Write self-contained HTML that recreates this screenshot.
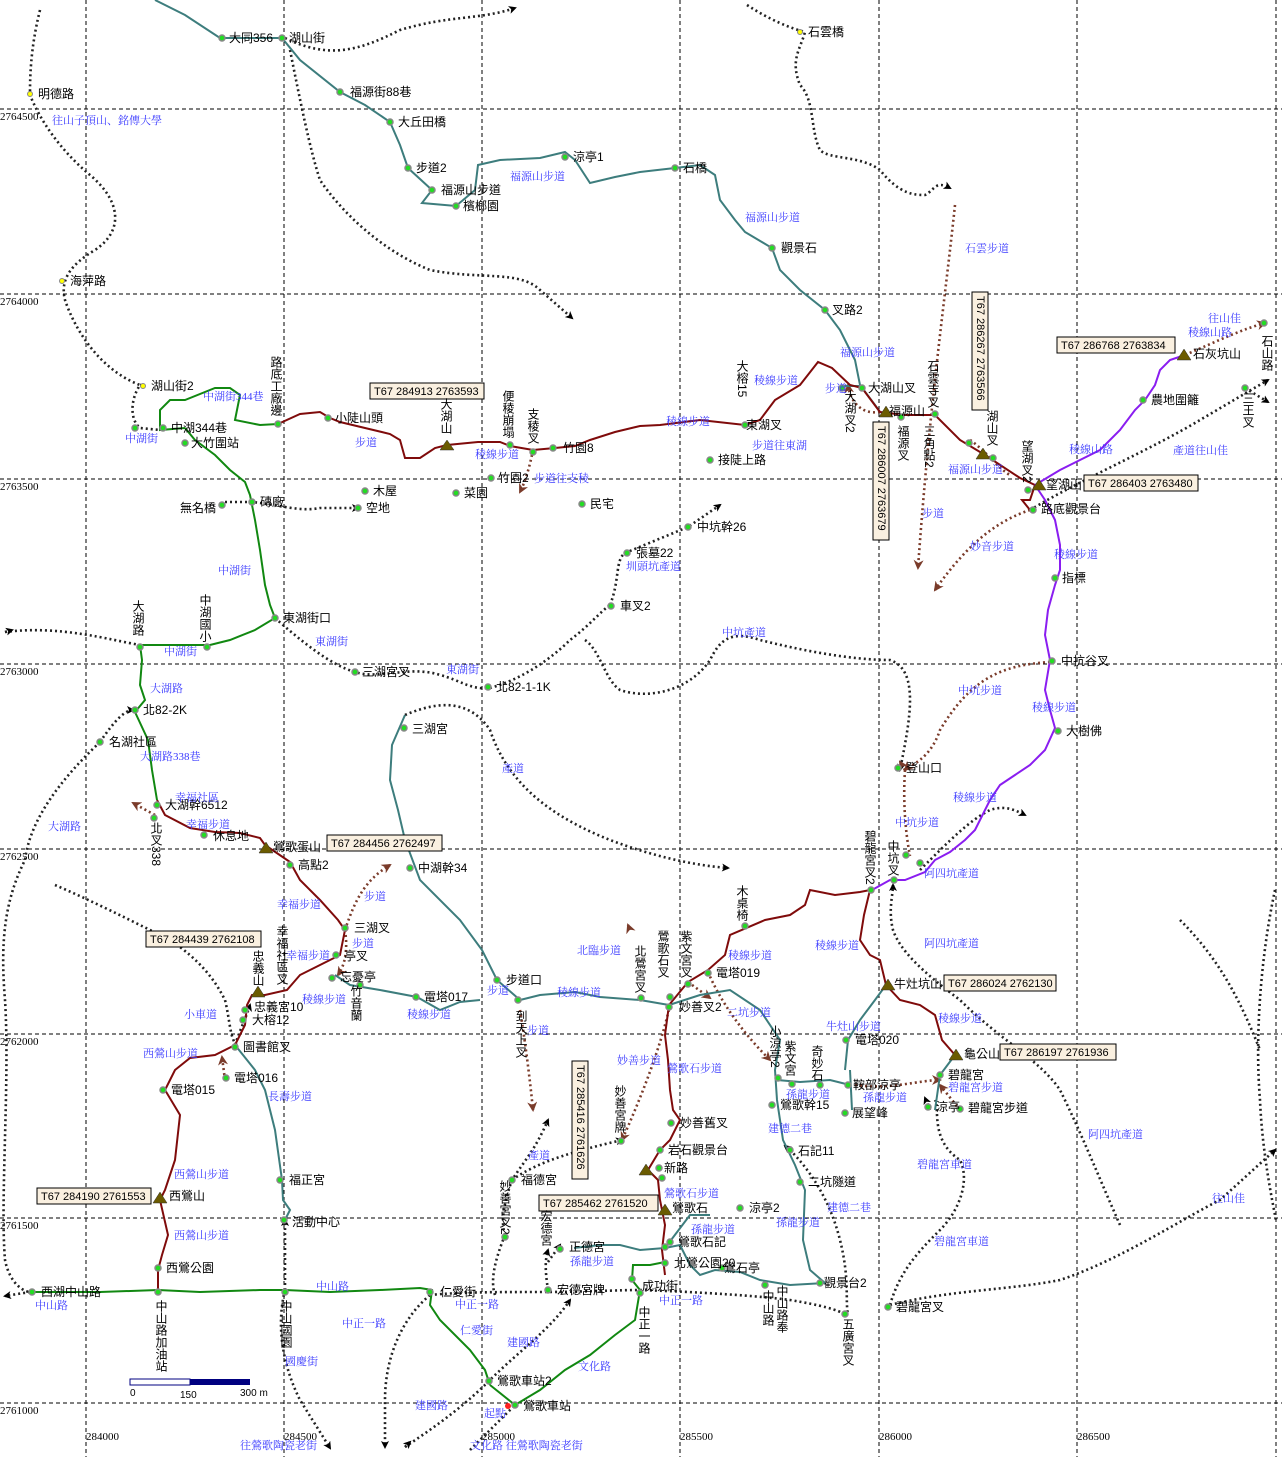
<!DOCTYPE html>
<html><head><meta charset="utf-8"><style>
html,body{margin:0;padding:0;background:#fff}
svg{display:block}
text{font-family:"Liberation Sans","Noto Sans CJK TC",sans-serif;font-size:12px;fill:#000}
.b{fill:#3b3bff;font-size:11px;font-family:"Liberation Serif","Noto Serif CJK SC",serif}
.v{writing-mode:vertical-rl}
.g{stroke:#000;stroke-width:1;stroke-dasharray:4,3;fill:none}
.road{stroke:#222;stroke-width:2.6;stroke-dasharray:2,3;fill:none}
.arr{stroke:#7a3b2a;stroke-width:2.6;stroke-dasharray:2,3;fill:none}
.teal{stroke:#3d7d7d;stroke-width:2;fill:none}
.red{stroke:#7f0b0b;stroke-width:2;fill:none}
.grn{stroke:#118811;stroke-width:2;fill:none}
.pur{stroke:#8a1df0;stroke-width:2;fill:none}
.box{fill:#faf0e0;stroke:#000;stroke-width:1}
.bx{font-size:11px}
</style></head><body>
<svg width="1282" height="1457" viewBox="0 0 1282 1457" xmlns="http://www.w3.org/2000/svg">
<defs>
<marker id="ka" markerWidth="8" markerHeight="8" refX="6" refY="4" orient="auto" markerUnits="userSpaceOnUse"><path d="M0,0L8,4L0,8L2,4z" fill="#000"/></marker>
<marker id="ra" markerWidth="10" markerHeight="10" refX="8" refY="5" orient="auto" markerUnits="userSpaceOnUse"><path d="M0,0L10,5L0,10L3,5z" fill="#7a3b2a"/></marker>
</defs>
<!-- grid -->
<g class="g">
<line x1="86" y1="0" x2="86" y2="1457"/><line x1="284" y1="0" x2="284" y2="1457"/><line x1="482" y1="0" x2="482" y2="1457"/><line x1="680" y1="0" x2="680" y2="1457"/><line x1="879" y1="0" x2="879" y2="1457"/><line x1="1077" y1="0" x2="1077" y2="1457"/><line x1="1276" y1="0" x2="1276" y2="1457"/>
<line x1="0" y1="109" x2="1282" y2="109"/><line x1="0" y1="294" x2="1282" y2="294"/><line x1="0" y1="479" x2="1282" y2="479"/><line x1="0" y1="664" x2="1282" y2="664"/><line x1="0" y1="849" x2="1282" y2="849"/><line x1="0" y1="1034" x2="1282" y2="1034"/><line x1="0" y1="1218" x2="1282" y2="1218"/><line x1="0" y1="1403" x2="1282" y2="1403"/>
</g>
<g font-size="11">
<text x="0" y="120" style="font-family:'Liberation Serif',serif;font-size:11px">2764500</text>
<text x="0" y="305" style="font-family:'Liberation Serif',serif;font-size:11px">2764000</text>
<text x="0" y="490" style="font-family:'Liberation Serif',serif;font-size:11px">2763500</text>
<text x="0" y="675" style="font-family:'Liberation Serif',serif;font-size:11px">2763000</text>
<text x="0" y="860" style="font-family:'Liberation Serif',serif;font-size:11px">2762500</text>
<text x="0" y="1045" style="font-family:'Liberation Serif',serif;font-size:11px">2762000</text>
<text x="0" y="1229" style="font-family:'Liberation Serif',serif;font-size:11px">2761500</text>
<text x="0" y="1414" style="font-family:'Liberation Serif',serif;font-size:11px">2761000</text>
<text x="86" y="1440" style="font-family:'Liberation Serif',serif;font-size:11px">284000</text>
<text x="284" y="1440" style="font-family:'Liberation Serif',serif;font-size:11px">284500</text>
<text x="482" y="1440" style="font-family:'Liberation Serif',serif;font-size:11px">285000</text>
<text x="680" y="1440" style="font-family:'Liberation Serif',serif;font-size:11px">285500</text>
<text x="879" y="1440" style="font-family:'Liberation Serif',serif;font-size:11px">286000</text>
<text x="1077" y="1440" style="font-family:'Liberation Serif',serif;font-size:11px">286500</text>
</g>
<!-- scale bar -->
<rect x="130" y="1379" width="60" height="6" fill="#fff" stroke="#000080"/><rect x="190" y="1379" width="60" height="6" fill="#000080"/>
<text x="130" y="1396" style="font-size:10px">0</text><text x="180" y="1398" style="font-size:10px">150</text><text x="240" y="1396" style="font-size:10px">300 m</text>

<!-- roads (black dotted) -->
<g class="road">
<path d="M40,10 C30,50 30,80 30,95 C40,120 60,150 90,175 C120,200 125,230 95,250 C70,265 60,280 65,300 C75,330 100,370 140,385 C130,400 130,420 140,428 L160,430"/>
<path d="M140,385 L145,385" />
<path d="M285,38 C330,60 360,50 400,30 C450,15 480,20 515,8" marker-end="url(#ka)"/>
<path d="M290,50 C300,100 310,150 320,180 C340,210 380,250 430,270 C480,280 520,270 540,290 L572,318" marker-end="url(#ka)"/>
<path d="M747,5 C770,20 790,28 805,32 C800,50 790,60 800,85 C815,100 810,130 820,150 C830,160 860,155 880,170 C900,195 915,195 925,195 C935,190 935,180 950,188" marker-end="url(#ka)"/>
<path d="M225,502 L252,502 C280,505 300,512 320,508 L358,508" marker-end="url(#ka)"/>
<path d="M610,605 C620,580 615,560 625,553 L688,527 L720,505" marker-end="url(#ka)"/>
<path d="M275,618 C300,640 330,665 355,672 C380,680 410,665 440,675 C460,680 470,690 490,688 C520,680 550,660 570,640 C590,625 600,612 610,605"/>
<path d="M585,640 C600,650 605,680 620,690 C650,700 690,690 710,660 C720,640 730,630 760,640 C800,650 850,660 890,660 C920,670 910,720 900,770" marker-end="url(#ka)"/>
<path d="M5,632 C60,625 110,640 140,645"  />
<path d="M5,632 L12,630" marker-end="url(#ka)"/>
<path d="M405,715 C440,700 470,700 490,730 C510,790 560,820 610,840 C650,855 690,865 728,868" marker-end="url(#ka)"/>
<path d="M100,742 C115,720 125,710 133,710" marker-end="url(#ka)"/>
<path d="M100,742 C60,780 30,820 25,860 C5,900 0,940 5,1000 C10,1080 0,1200 5,1260 C10,1285 25,1292 30,1292"/>
<path d="M30,1292 L5,1296" marker-end="url(#ka)"/>
<path d="M55,885 C90,900 130,920 170,940 C200,960 215,980 225,1000 C230,1020 230,1040 237,1045"/>
<path d="M235,1045 C240,1030 245,1020 250,1005" marker-end="url(#ka)"/>
<path d="M285,1290 C285,1270 285,1250 285,1220" marker-end="url(#ka)"/>
<path d="M285,1290 C275,1330 285,1370 300,1400 L330,1448" marker-end="url(#ka)"/>
<path d="M430,1295 C400,1320 385,1360 385,1400 L385,1447" marker-end="url(#ka)"/>
<path d="M430,1295 C460,1292 500,1292 540,1292 C580,1292 620,1290 640,1290 C700,1292 760,1296 790,1300 C820,1305 840,1310 845,1315"/>
<path d="M405,1447 C430,1430 460,1410 490,1380 C520,1350 550,1330 570,1300" marker-end="url(#ka)"/>
<path d="M405,1447 L410,1442" marker-end="url(#ka)"/>
<path d="M470,1450 C490,1430 505,1415 515,1405"/>
<path d="M505,1235 C500,1220 505,1200 512,1180 C525,1160 535,1150 548,1120" marker-end="url(#ka)"/>
<path d="M505,1235 C495,1260 490,1280 495,1295"/>
<path d="M512,1180 C540,1160 580,1150 622,1140" marker-end="url(#ka)"/>
<path d="M548,1290 C545,1270 545,1260 548,1250" marker-end="url(#ka)"/>
<path d="M548,1262 L560,1245" marker-end="url(#ka)"/>
<path d="M790,1150 C810,1170 830,1200 840,1240 C850,1280 845,1300 848,1315"/>
<path d="M790,1150 L785,1146" marker-end="url(#ka)"/>
<path d="M890,1305 C900,1270 920,1250 940,1230 C960,1210 970,1180 960,1160 C930,1140 940,1110 935,1100"/>
<path d="M930,1110 L925,1098" marker-end="url(#ka)"/>
<path d="M890,1305 C950,1290 1010,1290 1060,1280 C1120,1260 1180,1220 1220,1200 L1275,1150" marker-end="url(#ka)"/>
<path d="M1120,1225 C1100,1180 1080,1130 1060,1090 C1040,1060 1000,1040 960,1000 C920,970 900,950 893,930 C888,910 893,895 893,885" marker-end="url(#ka)"/>
<path d="M920,870 C950,840 970,820 990,810 C1005,805 1015,810 1025,815" marker-end="url(#ka)"/>
<path d="M1030,510 C1080,480 1150,450 1200,420 L1268,380" marker-end="url(#ka)"/>
<path d="M1245,388 L1268,402" marker-end="url(#ka)"/>
<path d="M1275,890 C1260,960 1255,1040 1260,1100 C1262,1150 1272,1200 1276,1220"/>
<path d="M1180,920 C1220,960 1240,1000 1260,1050"/>
</g>

<!-- brown dotted arrows -->
<g class="arr">
<path d="M955,205 C945,300 930,400 918,568" marker-end="url(#ra)"/>
<path d="M1030,510 C1000,520 970,540 935,590" marker-end="url(#ra)"/>
<path d="M1185,355 C1220,340 1240,330 1265,323" marker-end="url(#ra)"/>
<path d="M880,412 C860,415 850,400 848,385" marker-end="url(#ra)"/>
<path d="M1050,662 C1000,665 970,680 940,730 C930,760 910,765 905,770" marker-end="url(#ra)"/>
<path d="M905,770 C903,800 905,830 910,856"/>
<path d="M905,770 L900,762" marker-end="url(#ra)"/>
<path d="M533,450 C530,465 526,480 520,492" marker-end="url(#ra)"/>
<path d="M155,815 L133,803" marker-end="url(#ra)"/>
<path d="M345,930 C355,900 365,880 390,865" marker-end="url(#ra)"/>
<path d="M345,930 C348,950 345,965 338,975" marker-end="url(#ra)"/>
<path d="M225,1080 L222,1057" marker-end="url(#ra)"/>
<path d="M670,1005 C660,1050 640,1100 622,1140" marker-end="url(#ra)"/>
<path d="M520,1010 C525,1040 530,1080 533,1110" marker-end="url(#ra)"/>
<path d="M688,982 L710,998" marker-end="url(#ra)"/>
<path d="M708,972 C720,1000 740,1030 770,1060" marker-end="url(#ra)"/>
<path d="M630,930 L628,925" marker-end="url(#ra)"/>
<path d="M855,1085 C890,1090 920,1080 940,1080" marker-end="url(#ra)"/>
<path d="M960,1110 L940,1085" marker-end="url(#ra)"/>
<path d="M970,440 C985,450 1000,470 1010,475"/>
</g>

<!-- teal trails -->
<g class="teal">
<path d="M155,0 L185,15 L220,38 L282,38 L300,60 L340,92 L365,105 L390,122 L400,145 L408,168 L432,190 L422,203 L456,206 L475,190 L478,165 L500,160 L540,158 L565,152 L575,160 L590,183 L615,177 L640,172 L675,168 L700,165 L715,175 L720,200 L735,220 L745,232 L772,248 L780,270 L800,290 L825,310 L840,330 L855,360 L860,385 L875,405 L880,412"/>
<path d="M840,386 L862,386"/>
<path d="M405,715 L392,745 L390,780 L398,810 L405,840 L420,880 L460,920 L482,950 L497,980 L520,1000 L540,995 L575,992 L600,997 L640,1000 L669,1005"/>
<path d="M480,1000 L460,1002 L440,1010 L417,997 L380,990 L350,985 L335,975"/>
<path d="M235,1045 L255,1070 L265,1090 L275,1130 L282,1180 L283,1200 L290,1210 L285,1220"/>
<path d="M669,1005 L700,995 L730,990 L760,1010 L780,1040 L775,1070 L777,1100 L783,1140 L795,1165 L805,1190 L803,1240 L810,1270 L825,1283"/>
<path d="M777,1080 L800,1082 L830,1080 L850,1085"/>
<path d="M850,1070 L852,1110"/>
<path d="M886,985 L875,1000 L860,1020 L848,1040 L845,1070"/>
<path d="M955,1055 L940,1075 L935,1110"/>
<path d="M574,1248 L600,1245 L620,1245 L640,1250 L665,1248 L680,1245 L690,1265 L700,1275 L715,1270 L740,1272 L760,1280 L790,1285 L825,1283"/>
<path d="M665,1248 L690,1215 L710,1215"/>
</g>

<!-- red trails -->
<g class="red">
<path d="M278,424 L300,414 L320,412 L330,418 L340,422 L365,428 L390,434 L400,440 L405,458 L420,458 L435,448 L447,445 L478,442 L500,442 L510,446 L533,450 L555,448 L575,446 L590,440 L615,432 L640,426 L660,425 L700,420 L745,425 L760,420 L775,400 L800,385 L818,362 L832,368 L850,385 L862,388 L880,412 L905,415 L935,415 L960,440 L985,455 L1020,478 L1035,485 L1030,500 L1022,500 L1030,510"/>
<path d="M157,800 L165,815 L190,828 L215,832 L240,833 L260,838 L265,845 L290,862 L300,880 L320,900 L338,920 L345,930 L340,955 L320,965 L300,975 L287,990 L265,995 L252,995 L247,1005 L245,1025 L235,1045 L215,1055 L190,1058 L175,1070 L165,1090 L180,1115 L175,1160 L165,1190 L160,1200 L168,1235 L162,1255 L158,1270 L158,1290"/>
<path d="M669,1005 L665,1035 L668,1060 L670,1090 L673,1110 L680,1120 L670,1140 L660,1150 L648,1170 L658,1180 L660,1200 L665,1225 L662,1250 L665,1275"/>
<path d="M669,1005 L688,982 L708,970 L725,955 L730,935 L765,920 L790,915 L805,905 L810,890 L835,895 L860,892 L870,890 L864,915 L860,940 L870,955 L880,960 L886,985 L900,1000 L920,1005 L935,1015 L942,1040 L955,1055"/>
</g>

<!-- green trails -->
<g class="grn">
<path d="M30,1292 L100,1292 L158,1290 L200,1292 L260,1290 L285,1290 L330,1292 L380,1290 L420,1288 L432,1290 L430,1305 L440,1320 L470,1350 L485,1370 L490,1385"/>
<path d="M490,1385 L515,1405"/>
<path d="M515,1405 L540,1390 L565,1370 L590,1355 L615,1335 L635,1320 L640,1290 L632,1280 L633,1265 L650,1265 L665,1262"/>
<path d="M185,428 L195,440 L215,455 L230,470 L245,482 L250,495 L255,520 L260,550 L265,585 L270,605 L275,618 L255,630 L230,640 L210,645 L180,645 L150,645 L140,645 L142,660 L140,685 L145,700 L135,712 L148,740 L152,770 L157,800"/>
<path d="M185,428 L160,430 L160,410 L170,400 L185,400 L215,388 L230,388 L240,395 L235,420 L260,425 L278,424"/>
</g>

<!-- purple -->
<g class="pur">
<path d="M1035,485 L1045,500 L1055,520 L1060,545 L1060,570 L1055,585 L1048,610 L1045,635 L1050,660 L1045,690 L1050,710 L1055,728 L1045,750 L1030,765 L1015,775 L1000,785 L990,800 L975,830 L965,840 L950,852 L935,860 L925,872 L905,880 L890,880 L872,890"/>
<path d="M1035,485 L1060,470 L1080,460 L1100,450 L1120,430 L1135,410 L1145,400 L1155,385 L1160,370 L1170,360 L1185,355"/>
</g>

<!-- peaks -->
<g fill="#6b5b00" stroke="#333" stroke-width="0.5">
<path d="M440,450 L447,440 L454,450z"/><path d="M879,417 L886,406 L893,417z"/><path d="M976,459 L983,448 L990,459z"/><path d="M1032,490 L1039,479 L1046,490z"/><path d="M1177,360 L1184,349 L1191,360z"/>
<path d="M259,853 L266,842 L273,853z"/><path d="M251,997 L258,986 L265,997z"/><path d="M153,1203 L160,1192 L167,1203z"/><path d="M881,990 L888,979 L895,990z"/><path d="M949,1060 L956,1049 L963,1060z"/><path d="M639,1175 L646,1164 L653,1175z"/><path d="M658,1215 L665,1204 L672,1215z"/>
</g>

<!-- nodes -->
<g fill="#22dd22" stroke="#888" stroke-width="1.5">
<circle cx="222" cy="38" r="3"/><circle cx="282" cy="38" r="3"/><circle cx="340" cy="92" r="3"/><circle cx="390" cy="122" r="3"/><circle cx="408" cy="168" r="3"/><circle cx="432" cy="190" r="3"/><circle cx="456" cy="206" r="3"/><circle cx="565" cy="157" r="3"/><circle cx="675" cy="168" r="3"/><circle cx="772" cy="248" r="3"/><circle cx="825" cy="310" r="3"/><circle cx="842" cy="388" r="3"/><circle cx="862" cy="388" r="3"/><circle cx="901" cy="417" r="3"/><circle cx="935" cy="414" r="3"/><circle cx="969" cy="443" r="3"/><circle cx="993" cy="458" r="3"/><circle cx="1028" cy="490" r="3"/><circle cx="1033" cy="510" r="3"/><circle cx="1143" cy="400" r="3"/><circle cx="1264" cy="323" r="3"/><circle cx="1245" cy="388" r="3"/>
<circle cx="135" cy="428" r="3"/><circle cx="163" cy="428" r="3"/><circle cx="185" cy="443" r="3"/><circle cx="278" cy="424" r="3"/><circle cx="328" cy="418" r="3"/><circle cx="510" cy="445" r="3"/><circle cx="533" cy="452" r="3"/><circle cx="553" cy="448" r="3"/><circle cx="745" cy="425" r="3"/><circle cx="710" cy="460" r="3"/><circle cx="491" cy="478" r="3"/><circle cx="365" cy="491" r="3"/><circle cx="456" cy="493" r="3"/><circle cx="582" cy="504" r="3"/><circle cx="222" cy="505" r="3"/><circle cx="252" cy="502" r="3"/><circle cx="358" cy="508" r="3"/>
<circle cx="688" cy="527" r="3"/><circle cx="627" cy="553" r="3"/><circle cx="611" cy="606" r="3"/><circle cx="1055" cy="578" r="3"/><circle cx="1052" cy="661" r="3"/><circle cx="275" cy="618" r="3"/><circle cx="140" cy="647" r="3"/><circle cx="207" cy="647" r="3"/><circle cx="355" cy="672" r="3"/><circle cx="488" cy="687" r="3"/><circle cx="135" cy="710" r="3"/><circle cx="100" cy="742" r="3"/><circle cx="404" cy="728" r="3"/><circle cx="1058" cy="731" r="3"/><circle cx="898" cy="768" r="3"/>
<circle cx="157" cy="805" r="3"/><circle cx="154" cy="818" r="3"/><circle cx="204" cy="835" r="3"/><circle cx="290" cy="865" r="3"/><circle cx="410" cy="868" r="3"/><circle cx="345" cy="928" r="3"/><circle cx="336" cy="955" r="3"/><circle cx="332" cy="978" r="3"/><circle cx="360" cy="985" r="3"/><circle cx="416" cy="997" r="3"/><circle cx="497" cy="980" r="3"/><circle cx="518" cy="1000" r="3"/><circle cx="871" cy="890" r="3"/><circle cx="894" cy="880" r="3"/><circle cx="920" cy="863" r="3"/><circle cx="906" cy="855" r="3"/>
<circle cx="708" cy="973" r="3"/><circle cx="688" cy="984" r="3"/><circle cx="670" cy="997" r="3"/><circle cx="669" cy="1007" r="3"/><circle cx="641" cy="998" r="3"/><circle cx="745" cy="926" r="3"/><circle cx="245" cy="1010" r="3"/><circle cx="243" cy="1020" r="3"/><circle cx="235" cy="1047" r="3"/><circle cx="226" cy="1078" r="3"/><circle cx="163" cy="1090" r="3"/><circle cx="846" cy="1040" r="3"/><circle cx="940" cy="1075" r="3"/><circle cx="778" cy="1078" r="3"/><circle cx="792" cy="1084" r="3"/><circle cx="820" cy="1085" r="3"/><circle cx="848" cy="1085" r="3"/><circle cx="772" cy="1105" r="3"/><circle cx="845" cy="1113" r="3"/><circle cx="928" cy="1107" r="3"/><circle cx="960" cy="1109" r="3"/>
<circle cx="671" cy="1123" r="3"/><circle cx="621" cy="1141" r="3"/><circle cx="660" cy="1150" r="3"/><circle cx="790" cy="1150" r="3"/><circle cx="800" cy="1182" r="3"/><circle cx="659" cy="1168" r="3"/><circle cx="662" cy="1178" r="3"/><circle cx="512" cy="1180" r="3"/><circle cx="280" cy="1180" r="3"/><circle cx="740" cy="1208" r="3"/><circle cx="284" cy="1220" r="3"/><circle cx="505" cy="1237" r="3"/><circle cx="560" cy="1249" r="3"/><circle cx="665" cy="1247" r="3"/><circle cx="670" cy="1242" r="3"/><circle cx="665" cy="1263" r="3"/><circle cx="722" cy="1268" r="3"/><circle cx="158" cy="1268" r="3"/><circle cx="765" cy="1285" r="3"/><circle cx="820" cy="1283" r="3"/><circle cx="548" cy="1290" r="3"/><circle cx="632" cy="1279" r="3"/><circle cx="640" cy="1293" r="3"/><circle cx="32" cy="1292" r="3"/><circle cx="158" cy="1292" r="3"/><circle cx="285" cy="1292" r="3"/><circle cx="430" cy="1292" r="3"/><circle cx="845" cy="1314" r="3"/><circle cx="888" cy="1307" r="3"/><circle cx="489" cy="1381" r="3"/><circle cx="515" cy="1405" r="3"/>
</g>
<g fill="#ff0" stroke="#888"><circle cx="30" cy="94" r="2.5"/><circle cx="62" cy="281" r="2.5"/><circle cx="143" cy="386" r="2.5"/><circle cx="800" cy="32" r="2.5"/></g>
<circle cx="508" cy="1406" r="3" fill="#f22"/>

<!-- boxes -->
<g>
<rect class="box" x="370" y="383" width="114" height="16"/><text class="bx" x="374" y="395">T67  284913 2763593</text>
<rect class="box" x="1057" y="337" width="118" height="16"/><text class="bx" x="1061" y="349">T67  286768  2763834</text>
<rect class="box" x="1084" y="475" width="114" height="16"/><text class="bx" x="1088" y="487">T67  286403 2763480</text>
<rect class="box" x="972" y="292" width="16" height="118"/><text class="bx v" x="980" y="296">T67 286267 2763566</text>
<rect class="box" x="873" y="422" width="16" height="118"/><text class="bx v" x="881" y="426">T67 286007 2763679</text>
<rect class="box" x="327" y="835" width="115" height="16"/><text class="bx" x="331" y="847">T67  284456 2762497</text>
<rect class="box" x="146" y="931" width="115" height="16"/><text class="bx" x="150" y="943">T67  284439 2762108</text>
<rect class="box" x="944" y="975" width="112" height="16"/><text class="bx" x="948" y="987">T67  286024 2762130</text>
<rect class="box" x="1000" y="1044" width="116" height="16"/><text class="bx" x="1004" y="1056">T67  286197 2761936</text>
<rect class="box" x="572" y="1061" width="16" height="118"/><text class="bx v" x="580" y="1065">T67 285416 2761626</text>
<rect class="box" x="539" y="1195" width="119" height="16"/><text class="bx" x="543" y="1207">T67  285462 2761520</text>
<rect class="box" x="37" y="1188" width="114" height="16"/><text class="bx" x="41" y="1200">T67  284190 2761553</text>
</g>

<!-- black labels -->
<g>
<text x="229" y="42">大同356</text><text x="289" y="42">湖山街</text><text x="350" y="96">福源街88巷</text><text x="398" y="126">大丘田橋</text><text x="416" y="172">步道2</text><text x="441" y="194">福源山步道</text><text x="463" y="210">檳榔園</text><text x="573" y="161">涼亭1</text><text x="683" y="172">石橋</text><text x="781" y="252">觀景石</text><text x="808" y="36">石雲橋</text><text x="38" y="98">明德路</text><text x="70" y="285">海萍路</text>
<text x="832" y="314">叉路2</text><text x="868" y="392">大湖山叉</text><text x="889" y="415">福源山</text><text x="1193" y="358">石灰坑山</text><text x="1151" y="404">農地圍籬</text><text x="1046" y="489">望湖山</text><text x="1041" y="513">路底觀景台</text><text x="1062" y="582">指標</text><text x="1061" y="665">中抗谷叉</text><text x="1066" y="735">大樹佛</text><text x="906" y="772">登山口</text>
<text x="151" y="390">湖山街2</text><text x="171" y="432">中湖344巷</text><text x="191" y="447">大竹圍站</text><text x="335" y="422">小陡山頭</text><text x="563" y="452">竹園8</text><text x="746" y="429">東湖叉</text><text x="718" y="464">接陡上路</text><text x="498" y="482">竹園2</text><text x="373" y="495">木屋</text><text x="464" y="497">菜園</text><text x="590" y="508">民宅</text><text x="260" y="506">磚廠</text><text x="366" y="512">空地</text><text x="180" y="512">無名橋</text>
<text x="697" y="531">中坑幹26</text><text x="636" y="557">張墓22</text><text x="620" y="610">車叉2</text><text x="283" y="622">東湖街口</text><text x="362" y="676">三湖宮叉</text><text x="496" y="691">北82-1-1K</text><text x="143" y="714">北82-2K</text><text x="109" y="746">名湖社區</text><text x="412" y="733">三湖宮</text>
<text x="165" y="809">大湖幹6512</text><text x="213" y="840">休息地</text><text x="273" y="851">鶯歌蛋山</text><text x="298" y="869">高點2</text><text x="418" y="872">中湖幹34</text><text x="354" y="932">三湖叉</text><text x="344" y="960">亭叉</text><text x="340" y="981">忘憂亭</text><text x="424" y="1001">電塔017</text><text x="506" y="984">步道口</text><text x="254" y="1011">忠義宮10</text><text x="252" y="1024">大榕12</text><text x="243" y="1051">圖書館叉</text><text x="234" y="1082">電塔016</text><text x="171" y="1094">電塔015</text>
<text x="716" y="977">電塔019</text><text x="679" y="1011">妙善叉2</text><text x="894" y="988">牛灶坑山</text><text x="855" y="1044">電塔020</text><text x="964" y="1058">龜公山</text><text x="948" y="1079">碧龍宮</text><text x="853" y="1089">鞍部涼亭</text><text x="780" y="1109">鶯歌幹15</text><text x="852" y="1117">展望峰</text><text x="936" y="1111">涼亭</text><text x="968" y="1112">碧龍宮步道</text>
<text x="680" y="1127">妙善舊叉</text><text x="668" y="1154">岩石觀景台</text><text x="798" y="1155">石記11</text><text x="664" y="1172">新路</text><text x="808" y="1186">二坑隧道</text><text x="521" y="1184">福德宮</text><text x="289" y="1184">福正宮</text><text x="672" y="1212">鶯歌石</text><text x="749" y="1212">涼亭2</text><text x="169" y="1200">西鶯山</text><text x="292" y="1226">活動中心</text><text x="569" y="1251">正德宮</text><text x="678" y="1246">鶯歌石記</text><text x="674" y="1267">北鶯公園20</text><text x="724" y="1272">鶯石亭</text><text x="166" y="1272">西鶯公園</text><text x="824" y="1287">觀景台2</text><text x="557" y="1294">宏德宮牌</text><text x="642" y="1290">成功街</text><text x="41" y="1296">西湖中山路</text><text x="440" y="1296">仁愛街</text><text x="896" y="1311">碧龍宮叉</text><text x="497" y="1385">鶯歌車站2</text><text x="523" y="1410">鶯歌車站</text>
</g>
<!-- vertical black labels -->
<g>
<text class="v" x="276" y="356">路底工廠邊</text><text class="v" x="446" y="398">大湖山</text><text class="v" x="508" y="390">便稜崩塌</text><text class="v" x="533" y="408">支稜叉</text><text class="v" x="742" y="360">大榕15</text><text class="v" x="933" y="360">石雲寺叉</text><text class="v" x="903" y="425">福源叉</text><text class="v" x="929" y="425">三角點2</text><text class="v" x="850" y="390">大湖叉2</text><text class="v" x="992" y="410">湖山叉</text><text class="v" x="1027" y="440">望湖叉2</text><text class="v" x="1267" y="335">石山路</text><text class="v" x="1248" y="392">三王叉</text>
<text class="v" x="138" y="600">大湖路</text><text class="v" x="205" y="594">中湖國小</text><text class="v" x="156" y="822">北叉338</text><text class="v" x="258" y="950">忠義山</text><text class="v" x="282" y="925">幸福社區叉</text><text class="v" x="356" y="985">竹音蘭</text><text class="v" x="521" y="1010">到天上叉</text><text class="v" x="640" y="945">北鶯宮叉</text><text class="v" x="663" y="930">鶯歌石叉</text><text class="v" x="686" y="930">紫文宮叉</text><text class="v" x="742" y="885">木桌椅</text><text class="v" x="870" y="830">碧龍宮叉2</text><text class="v" x="893" y="840">中坑叉</text><text class="v" x="775" y="1025">小涼亭2</text><text class="v" x="790" y="1040">紫文宮</text><text class="v" x="817" y="1045">奇妙石</text><text class="v" x="620" y="1085">妙善宮牌</text><text class="v" x="505" y="1180">妙善宮叉2</text><text class="v" x="546" y="1210">宏德宮</text><text class="v" x="161" y="1300">中山路加油站</text><text class="v" x="286" y="1300">中山國園</text><text class="v" x="644" y="1306">中正一路</text><text class="v" x="768" y="1290">中山路</text><text class="v" x="782" y="1285">中山路奉</text><text class="v" x="848" y="1318">五廣宮叉</text>
</g>
<!-- blue labels -->
<g class="b">
<text class="b" x="52" y="124">往山子頂山、銘傳大學</text><text class="b" x="510" y="180">福源山步道</text><text class="b" x="745" y="221">福源山步道</text><text class="b" x="965" y="252">石雲步道</text><text class="b" x="840" y="356">福源山步道</text><text class="b" x="825" y="392">步道</text><text class="b" x="1208" y="322">往山佳</text><text class="b" x="1188" y="336">稜線山路</text><text class="b" x="1069" y="453">稜線山路</text><text class="b" x="1173" y="454">產道往山佳</text><text class="b" x="948" y="473">福源山步道</text><text class="b" x="922" y="517">步道</text><text class="b" x="970" y="550">妙音步道</text><text class="b" x="1054" y="558">稜線步道</text>
<text class="b" x="203" y="400">中湖街344巷</text><text class="b" x="125" y="442">中湖街</text><text class="b" x="355" y="446">步道</text><text class="b" x="475" y="458">稜線步道</text><text class="b" x="666" y="425">稜線步道</text><text class="b" x="754" y="384">稜線步道</text><text class="b" x="752" y="449">步道往東湖</text><text class="b" x="534" y="482">步道往支稜</text><text class="b" x="626" y="570">圳頭坑產道</text><text class="b" x="218" y="574">中湖街</text><text class="b" x="164" y="655">中湖街</text><text class="b" x="315" y="645">東湖街</text><text class="b" x="446" y="673">東湖街</text><text class="b" x="722" y="636">中坑產道</text><text class="b" x="958" y="694">中坑步道</text><text class="b" x="1032" y="711">稜線步道</text><text class="b" x="150" y="692">大湖路</text><text class="b" x="140" y="760">大湖路338巷</text><text class="b" x="502" y="772">產道</text><text class="b" x="48" y="830">大湖路</text><text class="b" x="953" y="801">稜線步道</text><text class="b" x="895" y="826">中坑步道</text><text class="b" x="924" y="877">阿四坑產道</text>
<text class="b" x="175" y="801">幸福社區</text><text class="b" x="186" y="828">幸福步道</text><text class="b" x="277" y="908">幸福步道</text><text class="b" x="364" y="900">步道</text><text class="b" x="352" y="947">步道</text><text class="b" x="286" y="959">幸福步道</text><text class="b" x="302" y="1003">稜線步道</text><text class="b" x="407" y="1018">稜線步道</text><text class="b" x="487" y="994">步道</text><text class="b" x="557" y="996">稜線步道</text><text class="b" x="527" y="1034">步道</text><text class="b" x="577" y="954">北臨步道</text><text class="b" x="728" y="959">稜線步道</text><text class="b" x="815" y="949">稜線步道</text><text class="b" x="924" y="947">阿四坑產道</text><text class="b" x="727" y="1016">二坑步道</text><text class="b" x="826" y="1030">牛灶山步道</text><text class="b" x="938" y="1022">稜線步道</text><text class="b" x="184" y="1018">小車道</text><text class="b" x="143" y="1057">西鶯山步道</text><text class="b" x="617" y="1064">妙善步道</text><text class="b" x="667" y="1072">鶯歌石步道</text><text class="b" x="786" y="1098">孫龍步道</text><text class="b" x="863" y="1101">孫龍步道</text><text class="b" x="948" y="1091">碧龍宮步道</text><text class="b" x="268" y="1100">長壽步道</text><text class="b" x="1088" y="1138">阿四坑產道</text><text class="b" x="768" y="1132">建德二巷</text>
<text class="b" x="528" y="1159">產道</text><text class="b" x="917" y="1168">碧龍宮車道</text><text class="b" x="174" y="1178">西鶯山步道</text><text class="b" x="664" y="1197">鶯歌石步道</text><text class="b" x="827" y="1211">建德二巷</text><text class="b" x="1212" y="1202">往山佳</text><text class="b" x="691" y="1233">孫龍步道</text><text class="b" x="776" y="1226">孫龍步道</text><text class="b" x="174" y="1239">西鶯山步道</text><text class="b" x="934" y="1245">碧龍宮車道</text><text class="b" x="570" y="1265">孫龍步道</text><text class="b" x="316" y="1290">中山路</text><text class="b" x="35" y="1309">中山路</text><text class="b" x="455" y="1308">中正一路</text><text class="b" x="659" y="1304">中正一路</text><text class="b" x="342" y="1327">中正一路</text><text class="b" x="460" y="1334">仁愛街</text><text class="b" x="507" y="1346">建國路</text><text class="b" x="285" y="1365">國慶街</text><text class="b" x="578" y="1370">文化路</text><text class="b" x="415" y="1409">建國路</text><text class="b" x="484" y="1417">起點</text><text class="b" x="240" y="1449">往鶯歌陶瓷老街</text><text class="b" x="470" y="1449">文化路 往鶯歌陶瓷老街</text>
</g>
</svg>
</body></html>
